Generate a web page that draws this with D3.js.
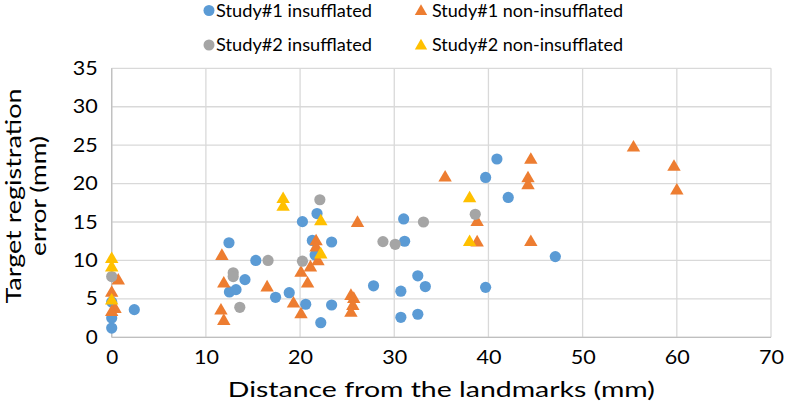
<!DOCTYPE html>
<html><head><meta charset="utf-8">
<script src="https://cdn.jsdelivr.net/npm/d3@7"></script>
<style>body{margin:0;background:#fff}svg{display:block}text{font-family:Lato,"Open Sans",sans-serif;fill:#000}</style>
</head><body><svg id="c" width="786" height="412"></svg>
<script>
const seriesNames = ["Study#1 insufflated","Study#1 non-insufflated","Study#2 insufflated","Study#2 non-insufflated"];
const seriesColors = ["#5B9BD5","#ED7D31","#A5A5A5","#FFC000"];
const seriesShapes = ["circle","triangle","circle","triangle"];
const study1Ins = [[0,1.2],[0,2.5],[0,4.6],[2.4,3.6],[12.45,12.3],[12.5,5.9],[13.2,6.2],[14.15,7.5],[15.3,10.0],[17.4,5.2],[18.85,5.8],[20.25,15.05],[20.6,4.3],[21.3,12.6],[21.6,10.7],[21.8,16.1],[22.2,1.9],[23.35,12.4],[23.35,4.2],[27.8,6.7],[30.7,6.0],[30.7,2.6],[31.0,15.4],[31.1,12.5],[32.5,8.0],[32.5,3.0],[33.3,6.6],[39.7,20.8],[39.7,6.5],[40.9,23.2],[42.1,18.2],[47.1,10.5]];
const study1Non = [[0.7,7.5],[0,5.9],[0.35,3.8],[0,3.4],[11.7,10.7],[11.9,7.1],[11.6,3.6],[11.9,2.25],[16.5,6.6],[19.3,4.5],[20.1,3.1],[20.1,8.5],[20.8,7.1],[21.1,9.2],[21.9,10.0],[21.7,12.6],[21.7,11.8],[25.4,5.5],[25.7,5.1],[25.6,4.2],[25.4,3.3],[26.1,15.0],[35.4,20.9],[38.8,15.1],[38.8,12.45],[44.5,23.2],[44.2,20.8],[44.2,19.9],[44.5,12.5],[55.4,24.8],[59.7,22.3],[60.0,19.2]];
const study2Ins = [[0,7.9],[12.9,8.4],[12.9,7.9],[13.6,3.9],[16.6,10.0],[20.25,9.9],[22.1,17.9],[28.8,12.45],[30.1,12.1],[33.1,15.0],[38.6,16.0]];
const study2Non = [[0,10.3],[0,9.2],[0,4.9],[18.2,18.1],[18.2,17.1],[22.2,15.2],[22.2,10.9],[38.0,18.2],[38.0,12.5]];
const xTicks = [0,10,20,30,40,50,60,70];
const yTicks = [0,5,10,15,20,25,30,35];
const xTitle = "Distance from the landmarks (mm)";
const yTitleLines = ["Target registration","error (mm)"];

const allSeries = [study1Ins, study1Non, study2Ins, study2Non];
const svg = d3.select("#c");
const L = 111.7, R = 771, T = 68.3, B = 337.3;
const x = d3.scaleLinear().domain([0,70]).range([L,R]);
const y = d3.scaleLinear().domain([0,35]).range([B,T]);

// gridlines
svg.append("g").selectAll("line").data(yTicks).join("line")
  .attr("x1",L).attr("x2",R).attr("y1",d=>y(d)).attr("y2",d=>y(d))
  .attr("stroke","#D9D9D9").attr("stroke-width",1.3);
svg.append("g").selectAll("line").data(xTicks).join("line")
  .attr("y1",T).attr("y2",B).attr("x1",d=>x(d)).attr("x2",d=>x(d))
  .attr("stroke","#D9D9D9").attr("stroke-width",1.3);
// axes lines
svg.append("line").attr("x1",L).attr("x2",R).attr("y1",B).attr("y2",B).attr("stroke","#BFBFBF").attr("stroke-width",1.3);
svg.append("line").attr("x1",L).attr("x2",L).attr("y1",T).attr("y2",B).attr("stroke","#BFBFBF").attr("stroke-width",1.3);

// tick labels via axes
const xAxis = svg.append("g").attr("transform",`translate(0,${B})`)
  .call(d3.axisBottom(x).tickValues(xTicks).tickSize(0).tickPadding(13).tickFormat(d3.format("d")));
xAxis.select(".domain").remove();
xAxis.selectAll("text").style("font-size","20px").attr("fill","#000")
  .attr("textLength",d=>d<10?12:25).attr("lengthAdjust","spacingAndGlyphs");
const yAxis = svg.append("g").attr("transform",`translate(${L},0)`)
  .call(d3.axisLeft(y).tickValues(yTicks).tickSize(0).tickPadding(14).tickFormat(d3.format("d")));
yAxis.select(".domain").remove();
yAxis.selectAll("text").style("font-size","19px").attr("fill","#000")
  .attr("textLength",d=>d<10?12:25).attr("lengthAdjust","spacingAndGlyphs");

// titles
svg.append("text").attr("x",(L+R)/2).attr("y",397).attr("text-anchor","middle")
  .style("font-size","21px").attr("textLength",427).attr("lengthAdjust","spacingAndGlyphs").text(xTitle);
const ytLens = [215,120];
const yt = svg.append("text").attr("transform","translate(0,196) rotate(-90)").attr("text-anchor","middle").style("font-size","21px");
yTitleLines.forEach((t,i)=>yt.append("tspan").attr("x",0).attr("y",21+i*25)
  .attr("textLength",ytLens[i]).attr("lengthAdjust","spacingAndGlyphs").text(t));

// markers
const tri = d3.symbol().type(d3.symbolTriangle).size(78);
allSeries.forEach((data,i)=>{
  const g = svg.append("g");
  if (seriesShapes[i]==="circle") {
    g.selectAll("circle").data(data).join("circle")
      .attr("cx",d=>x(d[0])).attr("cy",d=>y(d[1])).attr("r",5.6).attr("fill",seriesColors[i]);
  } else {
    g.selectAll("path").data(data).join("path")
      .attr("transform",d=>`translate(${x(d[0])},${y(d[1])+1})`).attr("d",tri).attr("fill",seriesColors[i]);
  }
});

// legend
const legPos = [[209,10.5],[421,10.5],[209,45],[421,45]];
const legLens = [156,191,156,191];
const legGap = [7,11,7,11];
seriesNames.forEach((n,i)=>{
  const [lx,ly] = legPos[i];
  if (seriesShapes[i]==="circle") svg.append("circle").attr("cx",lx).attr("cy",ly).attr("r",5.5).attr("fill",seriesColors[i]);
  else svg.append("path").attr("transform",`translate(${lx},${ly+1})`).attr("d",d3.symbol().type(d3.symbolTriangle).size(66)).attr("fill",seriesColors[i]);
  svg.append("text").attr("x",lx+legGap[i]).attr("y",ly+6).style("font-size","17px")
    .attr("textLength",legLens[i]).attr("lengthAdjust","spacingAndGlyphs").text(n);
});
</script></body></html>
